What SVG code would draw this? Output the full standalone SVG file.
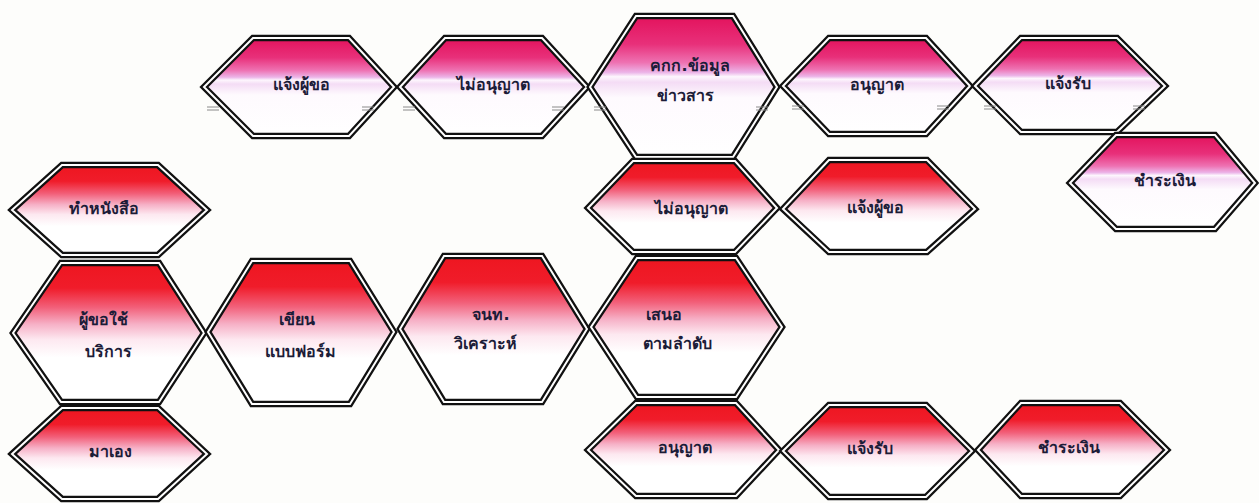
<svg xmlns="http://www.w3.org/2000/svg" width="1259" height="503" viewBox="0 0 1259 503">
<defs>
<linearGradient id="pink" x1="0" y1="0" x2="0" y2="1">
<stop offset="0" stop-color="#e3125c"/>
<stop offset="0.2" stop-color="#e8307a"/>
<stop offset="0.33" stop-color="#ee72b2"/>
<stop offset="0.4" stop-color="#ecb4e8"/>
<stop offset="0.43" stop-color="#fdf6fd"/>
<stop offset="0.47" stop-color="#f4dcf5"/>
<stop offset="0.58" stop-color="#fefafe"/>
<stop offset="1" stop-color="#ffffff"/>
</linearGradient>
<linearGradient id="red" x1="0" y1="0" x2="0" y2="1">
<stop offset="0" stop-color="#ee1620"/>
<stop offset="0.18" stop-color="#f01c2a"/>
<stop offset="0.32" stop-color="#f2607a"/>
<stop offset="0.44" stop-color="#f6b0c6"/>
<stop offset="0.55" stop-color="#fde8f0"/>
<stop offset="0.68" stop-color="#ffffff"/>
<stop offset="1" stop-color="#ffffff"/>
</linearGradient>
<style>
.hx{stroke:#111;stroke-width:6.5;stroke-linejoin:miter}
.hw{fill:none;stroke:#fff;stroke-width:2;stroke-linejoin:miter}
.pk{fill:url(#pink)}
.rd{fill:url(#red)}
.t{font-family:"DejaVu Sans","Noto Sans",sans-serif;font-weight:bold;font-size:16px;fill:#1c1c38;text-anchor:middle}
.tk{stroke:#8a8a8a;stroke-width:1;fill:none}
</style>
</defs>
<rect width="1259" height="503" fill="#fdfdfb"/>

<g id="n-t1">
<polygon class="hx pk" points="204,87 253,38 349,38 394,87 349,136 253,136"/>
<polygon class="hw" points="204,87 253,38 349,38 394,87 349,136 253,136"/>
<text class="t" x="301" y="90">แจ้งผู้ขอ</text>
</g>
<g id="n-t2">
<polygon class="hx pk" points="400,87 445,38 542,38 587,87 542,136 445,136"/>
<polygon class="hw" points="400,87 445,38 542,38 587,87 542,136 445,136"/>
<text class="t" x="493" y="90">ไม่อนุญาต</text>
</g>
<g id="n-t3">
<polygon class="hx pk" points="590,87 636,16 733,16 777,87 733,157 636,157"/>
<polygon class="hw" points="590,87 636,16 733,16 777,87 733,157 636,157"/>
<text class="t" x="690" y="71">คกก.ข้อมูล</text>
<text class="t" x="685" y="101">ข่าวสาร</text>
</g>
<g id="n-t4">
<polygon class="hx pk" points="783,86 829,38 926,38 970,86 926,134 829,134"/>
<polygon class="hw" points="783,86 829,38 926,38 970,86 926,134 829,134"/>
<text class="t" x="877" y="90">อนุญาต</text>
</g>
<g id="n-t5">
<polygon class="hx pk" points="975,86 1021,38 1117,38 1165,86 1117,132 1021,132"/>
<polygon class="hw" points="975,86 1021,38 1117,38 1165,86 1117,132 1021,132"/>
<text class="t" x="1068" y="89">แจ้งรับ</text>
</g>
<g id="n-t6">
<polygon class="hx pk" points="1070,183 1116,135 1215,135 1255,183 1215,229 1116,229"/>
<polygon class="hw" points="1070,183 1116,135 1215,135 1255,183 1215,229 1116,229"/>
<text class="t" x="1165" y="186">ชำระเงิน</text>
</g>

<g id="n-m1">
<polygon class="hx rd" points="588,208 633,161 735,161 777,208 735,252 633,252"/>
<polygon class="hw" points="588,208 633,161 735,161 777,208 735,252 633,252"/>
<text class="t" x="691" y="214">ไม่อนุญาต</text>
</g>
<g id="n-m2">
<polygon class="hx rd" points="783,209 829,160 927,160 975,209 927,252 829,252"/>
<polygon class="hw" points="783,209 829,160 927,160 975,209 927,252 829,252"/>
<text class="t" x="875" y="213">แจ้งผู้ขอ</text>
</g>

<g id="n-l1">
<polygon class="hx rd" points="12,210 62,165 158,165 207,210 158,255 62,255"/>
<polygon class="hw" points="12,210 62,165 158,165 207,210 158,255 62,255"/>
<text class="t" x="104" y="214">ทำหนังสือ</text>
</g>
<g id="n-l2">
<polygon class="hx rd" points="13,333 61,263 159,263 204,333 159,402 61,402"/>
<polygon class="hw" points="13,333 61,263 159,263 204,333 159,402 61,402"/>
<text class="t" x="103" y="325">ผู้ขอใช้</text>
<text class="t" x="108" y="357">บริการ</text>
</g>
<g id="n-l3">
<polygon class="hx rd" points="12,454 62,408 158,408 207,454 158,499 62,499"/>
<polygon class="hw" points="12,454 62,408 158,408 207,454 158,499 62,499"/>
<text class="t" x="110" y="457">มาเอง</text>
</g>

<g id="n-r1">
<polygon class="hx rd" points="208,332 252,261 350,261 394,332 350,404 252,404"/>
<polygon class="hw" points="208,332 252,261 350,261 394,332 350,404 252,404"/>
<text class="t" x="297" y="325">เขียน</text>
<text class="t" x="300" y="357">แบบฟอร์ม</text>
</g>
<g id="n-r2">
<polygon class="hx rd" points="400,329 444,256 542,256 587,329 542,402 444,402"/>
<polygon class="hw" points="400,329 444,256 542,256 587,329 542,402 444,402"/>
<text class="t" x="491" y="320">จนท.</text>
<text class="t" x="485" y="349">วิเคราะห์</text>
</g>
<g id="n-r3">
<polygon class="hx rd" points="591,327 637,258 736,258 782,327 736,397 637,397"/>
<polygon class="hw" points="591,327 637,258 736,258 782,327 736,397 637,397"/>
<text class="t" x="664" y="320">เสนอ</text>
<text class="t" x="677" y="349">ตามลำดับ</text>
</g>

<g id="n-b1">
<polygon class="hx rd" points="588,450 636,403 736,403 779,450 736,496 636,496"/>
<polygon class="hw" points="588,450 636,403 736,403 779,450 736,496 636,496"/>
<text class="t" x="685" y="453">อนุญาต</text>
</g>
<g id="n-b2">
<polygon class="hx rd" points="783,451 829,405 926,405 972,451 926,497 829,497"/>
<polygon class="hw" points="783,451 829,405 926,405 972,451 926,497 829,497"/>
<text class="t" x="870" y="454">แจ้งรับ</text>
</g>
<g id="n-b3">
<polygon class="hx rd" points="978,450 1021,403 1120,403 1167,450 1120,496 1021,496"/>
<polygon class="hw" points="978,450 1021,403 1120,403 1167,450 1120,496 1021,496"/>
<text class="t" x="1069" y="453">ชำระเงิน</text>
</g>

<g id="connectors">
<path class="tk" d="M207 107h12M207 110h12M362 107h12M362 110h12"/>
<path class="tk" d="M403 107h12M403 110h12M552 107h12M552 110h12"/>
<path class="tk" d="M594 107h12M594 110h12M756 107h12M756 110h12"/>
<path class="tk" d="M792 106h12M792 109h12M937 106h12M937 109h12"/>
<path class="tk" d="M984 106h12M984 109h12M1133 106h12M1133 109h12"/>
</g>
</svg>
